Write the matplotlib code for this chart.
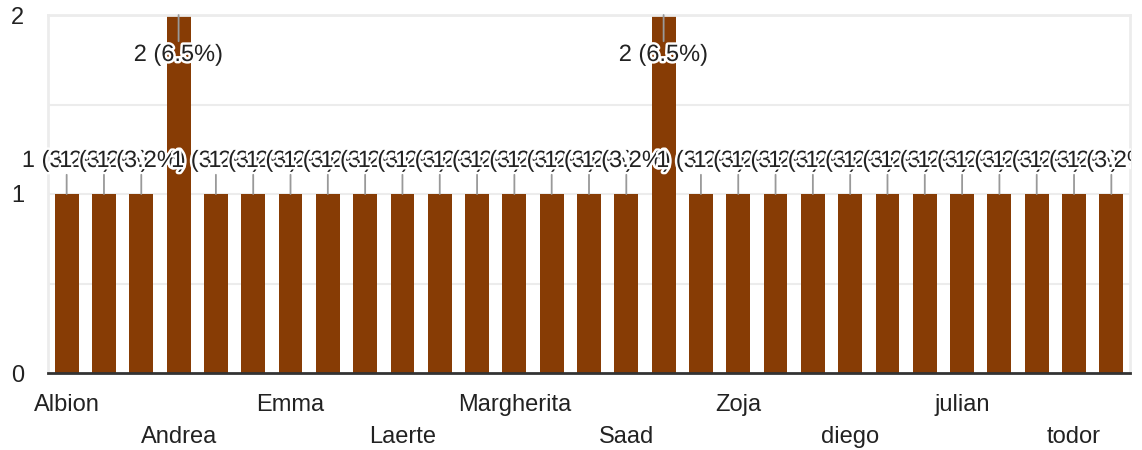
import matplotlib.pyplot as plt
import matplotlib.patheffects as pe
from matplotlib.transforms import Bbox

plt.rcParams['font.family'] = ['Liberation Sans', 'DejaVu Sans']

names = ['Albion', 'Alessandro', 'Alice', 'Andrea', 'Anna', 'Daniel', 'Emma',
         'Francesca', 'Giulia', 'Laerte', 'Luca', 'Marco', 'Margherita',
         'Matteo', 'Paolo', 'Saad', 'Sara', 'Tommaso', 'Zoja', 'alex', 'bruno',
         'diego', 'elena', 'gent', 'julian', 'marco', 'sofia', 'todor', 'valentina']
counts = [1, 1, 1, 2, 1, 1, 1, 1, 1, 1, 1, 1, 1, 1, 1, 1, 2, 1, 1, 1, 1,
          1, 1, 1, 1, 1, 1, 1, 1]
yticks = [0, 1, 2]

total = sum(counts)
x = list(range(len(names)))

fig = plt.figure(figsize=(11.42, 4.5), dpi=100)
ax = fig.add_axes([48 / 1142, 77 / 450, (1130 - 48) / 1142, (373 - 15) / 450])

ax.bar(x, counts, width=0.64, color='#873c05', zorder=2)
ax.set_xlim(-0.5, len(names) - 0.5)
ax.set_ylim(0, 2)

for g in [0.5, 1, 1.5, 2]:
    ax.axhline(g, color='#ececec', lw=1.5, zorder=1)

for s in ['top', 'left', 'right']:
    ax.spines[s].set_color('#ececec')
    ax.spines[s].set_linewidth(2)
ax.spines['bottom'].set_color('#333333')
ax.spines['bottom'].set_linewidth(2)
ax.spines['bottom'].set_zorder(3)

ax.set_yticks(yticks)
ax.set_yticklabels([str(v) for v in yticks])
ax.tick_params(axis='y', length=0, pad=17, labelsize=17, labelcolor='#222222')

ax.set_xticks(x[::3])
ax.set_xticklabels(names[::3])
ax.tick_params(axis='x', length=0, labelsize=17, labelcolor='#222222')
for k, t in enumerate(ax.xaxis.get_major_ticks()):
    t.set_pad(15 if k % 2 == 0 else 38)

clip = Bbox([[0, 0], [1131, 450]])
for i, v in enumerate(counts):
    lab = '%d (%.1f%%)' % (v, 100 * v / total)
    if v >= 2:
        off, va = -29, 'top'
    else:
        off, va = 22, 'bottom'
    a = ax.annotate(lab, xy=(i, v), xytext=(0, off), textcoords='offset pixels',
                    ha='center', va=va, fontsize=17, color='#222222',
                    annotation_clip=False, zorder=4,
                    arrowprops=dict(arrowstyle='-', color='#999999', lw=1.3,
                                    shrinkA=0, shrinkB=0))
    a.set_path_effects([pe.withStroke(linewidth=3.5, foreground='white')])
    a.set_clip_on(True)
    a.set_clip_box(clip)

fig.savefig('out.png', dpi=100)
